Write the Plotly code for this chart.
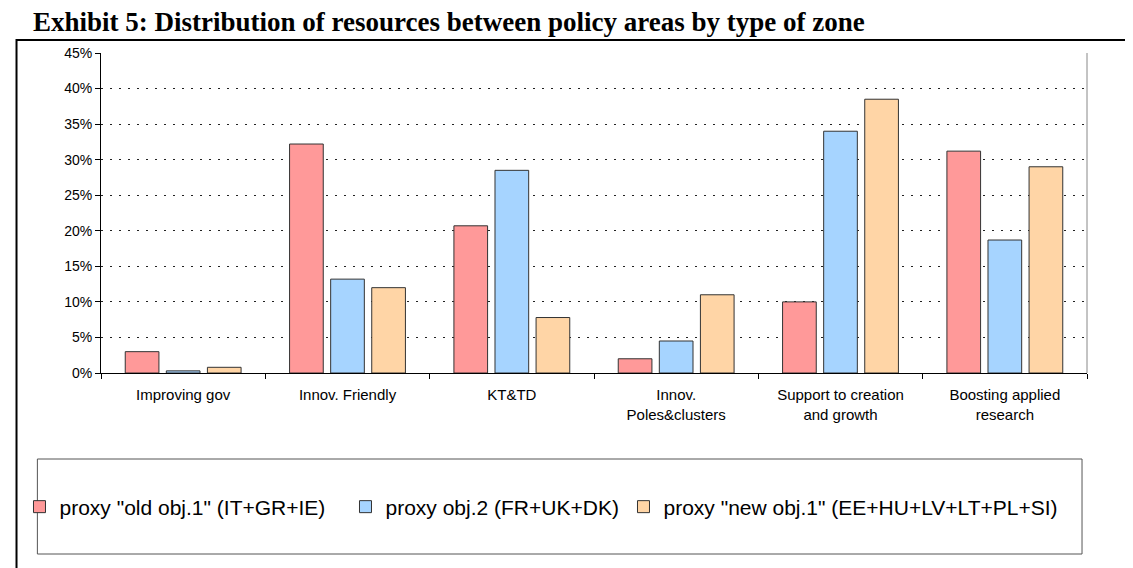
import plotly.graph_objects as go

categories = ["Improving gov", "Innov. Friendly", "KT&TD", "Innov.<br>Poles&clusters",
              "Support to creation<br>and growth", "Boosting applied<br>research"]
old_obj1 = [3.0, 32.2, 20.7, 2.0, 10.0, 31.2]
obj2 = [0.3, 13.2, 28.5, 4.5, 34.0, 18.7]
new_obj1 = [0.8, 12.0, 7.8, 11.0, 38.5, 29.0]
series_names = ['proxy "old obj.1" (IT+GR+IE)', 'proxy obj.2 (FR+UK+DK)',
                'proxy "new obj.1" (EE+HU+LV+LT+PL+SI)']
colors = ["#FF9999", "#A6D4FF", "#FFD5A6"]
legend_widths = [281, 233, None]
title = "Exhibit 5: Distribution of resources between policy areas by type of zone"

W, H = 1133, 568
OFF = 8  # page body margin
L, R, T, B = 95 - OFF, 1087 - OFF, 53 - OFF, 373 - OFF

def px(sx):
    return (sx - OFF - L) / (R - L)

def py(sy):
    return (B - (sy - OFF)) / (B - T)

fig = go.Figure()
for name, vals, c, lw in zip(series_names, [old_obj1, obj2, new_obj1], colors, legend_widths):
    kw = {}
    if lw:
        kw["legendwidth"] = lw
    fig.add_trace(go.Bar(x=categories, y=vals, name=name,
                         marker=dict(color=c, line=dict(color="#333333", width=1)), **kw))

fig.update_layout(
    width=W, height=H,
    margin=dict(l=L, r=W - R, t=T, b=H - B),
    paper_bgcolor="white", plot_bgcolor="white",
    barmode="group", bargap=0.25, bargroupgap=0.18,
    font=dict(family="Liberation Sans, Arial", color="black"),
    showlegend=True,
    legend=dict(orientation="h", x=px(13), xanchor="left", y=py(507), yanchor="middle",
                font=dict(size=21), bgcolor="rgba(0,0,0,0)", itemclick=False,
                traceorder="normal", itemwidth=30),
    xaxis=dict(showline=True, linecolor="black", linewidth=1, ticks="outside",
               tickson="boundaries", ticklen=5, tickcolor="black",
               tickfont=dict(size=15), showgrid=False, ticklabelstandoff=8),
    yaxis=dict(range=[0, 45], dtick=5, ticksuffix="%", showline=True, linecolor="black",
               linewidth=1, ticks="outside", ticklen=5, tickcolor="black",
               tickfont=dict(size=14), showgrid=True, gridcolor="#222222",
               griddash="2px,7px", gridwidth=1, zeroline=False),
    shapes=[
        dict(type="rect", xref="paper", yref="paper", x0=px(10), x1=px(1145), y0=py(600), y1=py(40),
             line=dict(color="black", width=2), layer="below"),
        dict(type="rect", xref="paper", yref="paper", x0=px(31), x1=px(1082), y0=py(554), y1=py(459),
             line=dict(color="#555555", width=1), layer="below"),
        dict(type="line", xref="paper", yref="paper", x0=1, x1=1, y0=0, y1=1,
             line=dict(color="#888888", width=1)),
    ],
    annotations=[
        dict(text="<b>" + title + "</b>", xref="paper", yref="paper", x=px(25), y=py(39),
             xanchor="left", yanchor="bottom", showarrow=False,
             font=dict(family="Liberation Serif, Times New Roman", size=27, color="black")),
    ],
)

fig.write_html("out.html")
